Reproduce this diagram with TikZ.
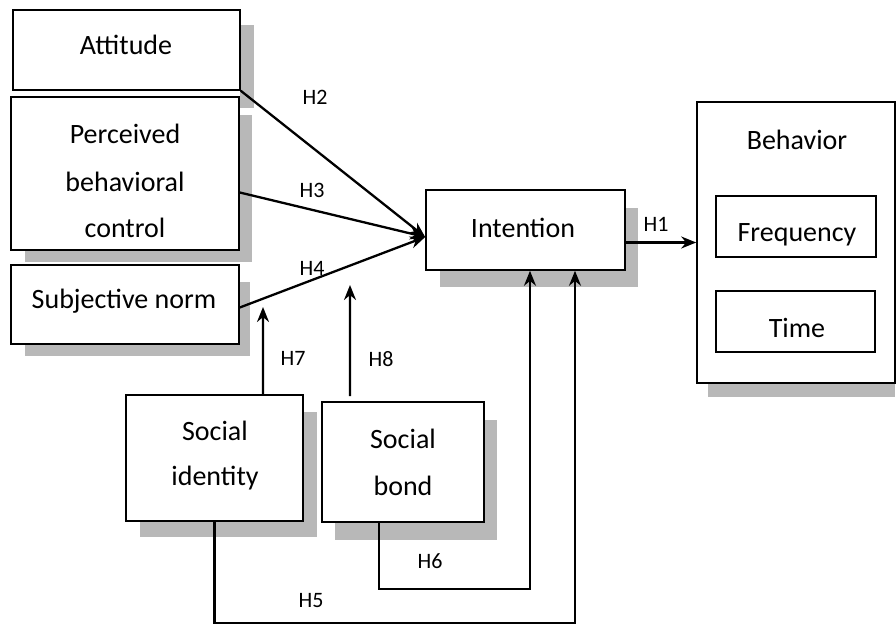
\documentclass[tikz,border=0pt]{standalone}
\usepackage{fontspec}
\setmainfont{Carlito}
\usetikzlibrary{arrows.meta,calc}
\tikzset{
  box/.style={draw=black, line width=1.6bp, fill=white, inner sep=0pt},
  shade/.style={fill=black!28, draw=none},
  txt/.style={font=\fontsize{28bp}{32bp}\selectfont, inner sep=0pt, anchor=center},
  hlab/.style={font=\fontsize{22bp}{26bp}\selectfont, inner sep=0pt},
  arr/.style={line width=2.3bp, -{Stealth[length=15bp,width=12bp]}},
  conn/.style={line width=2.3bp}
}
\begin{document}
\begin{tikzpicture}[x=1bp,y=-1bp]
\useasboundingbox (0,0) rectangle (896,626);
% shadows
\fill[shade] (240,25) rectangle (254,108);
\fill[shade] (25,250) rectangle (252,262);
\fill[shade] (239,115) rectangle (252,262);
\fill[shade] (25,344) rectangle (250,356);
\fill[shade] (239,282) rectangle (250,356);
\fill[shade] (440,270) rectangle (638,287);
\fill[shade] (625,208) rectangle (638,287);
\fill[shade] (708,383) rectangle (895,397);
\fill[shade] (140,521) rectangle (317,537);
\fill[shade] (303,412) rectangle (317,537);
\fill[shade] (335,522) rectangle (497,540);
\fill[shade] (484,420) rectangle (497,540);
\fill[black!12] (726,257) rectangle (880,262);
% boxes
\node[box, minimum width=227bp, minimum height=80bp] (att) at (126.5,50) {};
\node[box, minimum width=228bp, minimum height=153bp] (pbc) at (125,173.5) {};
\node[box, minimum width=228bp, minimum height=79bp] (sn) at (125,304.5) {};
\node[box, minimum width=199bp, minimum height=80bp] (int) at (525.5,230) {};
\node[box, minimum width=198bp, minimum height=281bp] (beh) at (796,242.5) {};
\node[box, minimum width=160bp, minimum height=61bp] (freq) at (796,226.5) {};
\node[box, minimum width=159bp, minimum height=61bp] (time) at (795.5,321.5) {};
\node[box, minimum width=177bp, minimum height=126bp] (si) at (214.5,458) {};
\node[box, minimum width=162bp, minimum height=120bp] (sb) at (403,462) {};
% texts
\node[txt] at (126,45) {Attitude};
\node[txt] at (125,134) {Perceived};
\node[txt] at (125,182) {behavioral};
\node[txt] at (125,228) {control};
\node[txt] at (124,301) {Subjective norm};
\node[txt] at (523,228) {Intention};
\node[txt] at (797,140) {Behavior};
\node[txt] at (797,235) {Frequency};
\node[txt] at (797,328) {Time};
\node[txt] at (215,431) {Social};
\node[txt] at (215,478) {identity};
\node[txt] at (403,439) {Social};
\node[txt] at (403,486) {bond};
% free ends
\coordinate (h7end) at (263,307);
\coordinate (h8end) at (350,285);
% connectors
\draw[arr] (att.south east) -- ([yshift=-7bp]int.west);
\draw[arr] ([yshift=-19bp]pbc.east) -- ([yshift=-7bp]int.west);
\draw[arr] ([yshift=-3bp]sn.east) -- ([yshift=-7bp]int.west);
\draw[arr] (int.east |- beh.west) -- (beh.west);
\draw[arr] ([xshift=48.5bp]si.north) -- (h7end);
\draw[arr] ([xshift=-53bp,yshift=5bp]sb.north) -- (h8end);
\draw[arr] ([xshift=-24bp]sb.south) -- ++(0,66) -| ([xshift=4.5bp]int.south);
\draw[arr] (si.south) -- ++(0,101) -| ([xshift=49.5bp]int.south);
% labels
\node[hlab] at (315,97) {H2};
\node[hlab] at (312,190) {H3};
\node[hlab] at (312,268) {H4};
\node[hlab] at (656,224) {H1};
\node[hlab] at (293,358) {H7};
\node[hlab] at (381,359) {H8};
\node[hlab] at (430,561) {H6};
\node[hlab] at (311,601) {H5};
\end{tikzpicture}
\end{document}
